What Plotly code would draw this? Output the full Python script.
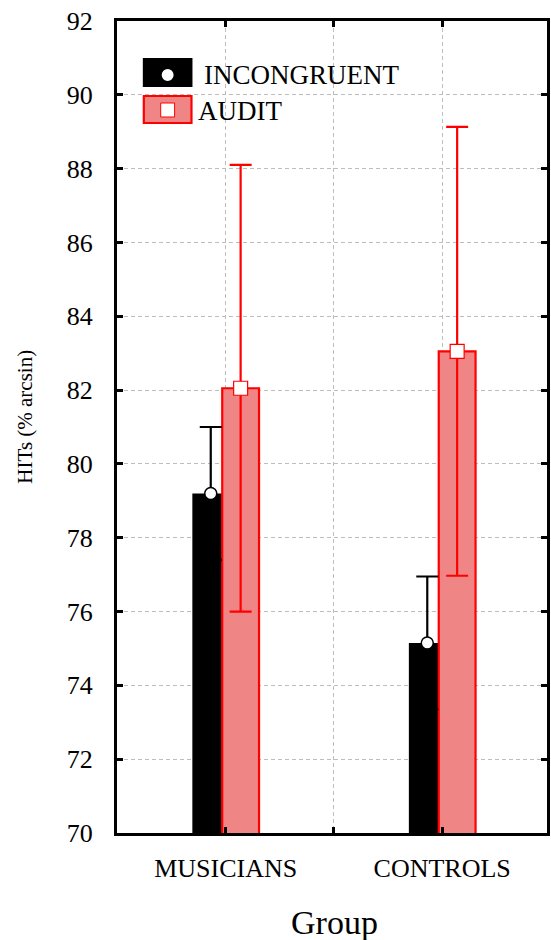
import plotly.graph_objects as go

# ---- data ----
groups = ["MUSICIANS", "CONTROLS"]
incongruent_mean = [79.2, 75.15]
incongruent_err = [1.8, 1.8]
audit_mean = [82.05, 83.05]
audit_err = [6.05, 6.08]
y_ticks = [70, 72, 74, 76, 78, 80, 82, 84, 86, 88, 90, 92]

# ---- layout geometry (pixels) ----
W, H = 551, 940
L, R, T, B = 117, 550, 21, 833
BAR_W = 0.17
OFF_BLACK = -0.154
OFF_RED = -0.016
FONT = "Liberation Serif"
RED_FILL = "#F08585"
RED = "#FF0000"

xs = list(range(len(groups)))
x_black = [x + OFF_BLACK + BAR_W / 2 for x in xs]
x_red = [x + OFF_RED + BAR_W / 2 for x in xs]

fig = go.Figure()
fig.add_trace(go.Bar(x=xs, y=incongruent_mean, width=BAR_W, offset=OFF_BLACK,
                     marker=dict(color="black", line=dict(width=0)),
                     name="INCONGRUENT", showlegend=False))
fig.add_trace(go.Bar(x=xs, y=audit_mean, width=BAR_W, offset=OFF_RED,
                     marker=dict(color=RED_FILL, line=dict(color=RED, width=2.2)),
                     name="AUDIT", showlegend=False))
fig.add_trace(go.Scatter(x=x_black, y=incongruent_mean, mode="markers",
                         marker=dict(symbol="circle", size=12, color="white",
                                     line=dict(color="black", width=1.5)),
                         error_y=dict(type="data", array=incongruent_err, color="black",
                                      thickness=2.2, width=11),
                         showlegend=False))
fig.add_trace(go.Scatter(x=x_red, y=audit_mean, mode="markers",
                         marker=dict(symbol="square", size=14, color="white",
                                     line=dict(color=RED, width=1.2)),
                         error_y=dict(type="data", array=audit_err, color=RED,
                                      thickness=2.2, width=11),
                         showlegend=False))

pw, ph = R - L, B - T


def px(x):
    return (x - L) / pw


def py(y):
    return (B - y) / ph


shapes = [
    # legend: INCONGRUENT box
    dict(type="rect", xref="paper", yref="paper", x0=px(143), x1=px(193), y0=py(87), y1=py(58),
         fillcolor="black", line=dict(width=0), layer="above"),
    dict(type="circle", xref="paper", yref="paper", x0=px(162), x1=px(174), y0=py(81), y1=py(69),
         fillcolor="white", line=dict(width=0), layer="above"),
    # legend: AUDIT box
    dict(type="rect", xref="paper", yref="paper", x0=px(144), x1=px(192), y0=py(123), y1=py(96),
         fillcolor=RED_FILL, line=dict(color=RED, width=2.2), layer="above"),
    dict(type="rect", xref="paper", yref="paper", x0=px(161), x1=px(175), y0=py(117), y1=py(103),
         fillcolor="white", line=dict(color=RED, width=1), layer="above"),
]

annotations = [
    dict(text="INCONGRUENT", xref="paper", yref="paper", x=px(203), y=py(75),
         xanchor="left", yanchor="middle", showarrow=False,
         font=dict(family=FONT, size=27, color="black")),
    dict(text="AUDIT", xref="paper", yref="paper", x=px(197), y=py(111),
         xanchor="left", yanchor="middle", showarrow=False,
         font=dict(family=FONT, size=27, color="black")),
    dict(text="Group", xref="paper", yref="paper", x=px(336), y=py(923),
         xanchor="center", yanchor="middle", showarrow=False,
         font=dict(family=FONT, size=34, color="black")),
    dict(text="HITs (% arcsin)", xref="paper", yref="paper", x=px(24), y=py(417),
         xanchor="center", yanchor="middle", showarrow=False, textangle=-90,
         font=dict(family=FONT, size=21, color="black")),
]

axis_common = dict(showline=True, linecolor="black", linewidth=3, mirror="ticks",
                   ticks="inside", ticklen=6, tickwidth=2.5, tickcolor="black",
                   showgrid=True, gridcolor="#BDBDBD", gridwidth=1, griddash="4px,3px",
                   zeroline=False, tickfont=dict(family=FONT, size=26, color="black"))

fig.update_layout(
    width=W, height=H,
    margin=dict(l=L, r=W - R, t=T, b=H - B, pad=0),
    paper_bgcolor="white", plot_bgcolor="white",
    barmode="overlay",
    shapes=shapes, annotations=annotations,
    xaxis=dict(range=[-0.502, 1.484], tickvals=[0, 0.5, 1],
               ticktext=[groups[0], "", groups[1]], ticklabelstandoff=10, **axis_common),
    yaxis=dict(range=[70, 92], tickvals=y_ticks, ticklabelstandoff=16, **axis_common),
)

fig.write_html("out.html", config={"displayModeBar": False},
               post_script="document.body.style.margin='0';document.body.style.overflow='hidden';")
